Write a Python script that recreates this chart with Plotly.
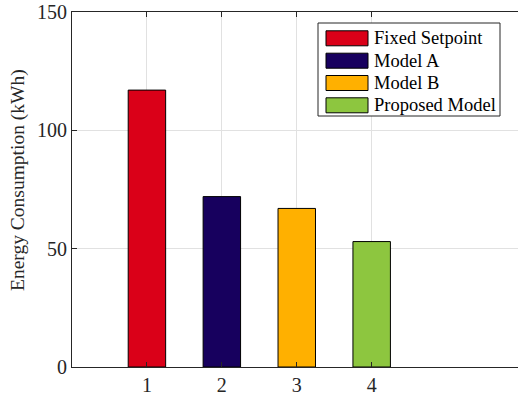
import plotly.graph_objects as go

# Energy use per control strategy
strategies = ["Fixed Setpoint", "Model A", "Model B", "Proposed Model"]
positions = [1, 2, 3, 4]
energy_kwh = [117, 72, 67, 53]
bar_colors = ["rgb(218,0,24)", "rgb(23,0,94)", "rgb(255,176,0)", "rgb(141,198,63)"]
y_ticks = [0, 50, 100, 150]
x_ticks = [1, 2, 3, 4]

W, H = 518, 398
ML, MR, MT, MB = 72, 0, 12, 31
FONT = "Liberation Serif"
AX = "rgb(38,38,38)"
GRID = "rgb(225,225,225)"

fig = go.Figure()
for name, x, v, c in zip(strategies, positions, energy_kwh, bar_colors):
    fig.add_trace(go.Bar(
        x=[x], y=[v], name=name, width=0.5,
        marker=dict(color=c, line=dict(color="black", width=1)),
        showlegend=False,
    ))

# hand-built legend box in pixel terms, converted to paper coordinates
pw, ph = W - ML - MR, H - MT - MB
def px(x):
    return (x - ML) / pw
def py(y):
    return (H - MB - y) / ph

shapes = [dict(type="rect", xref="paper", yref="paper",
               x0=px(318), x1=px(500), y0=py(116), y1=py(23),
               fillcolor="white", line=dict(color=AX, width=1), layer="above")]
annotations = []
row_y = [38.3, 60.7, 83.0, 105.3]
for name, c, yc in zip(strategies, bar_colors, row_y):
    shapes.append(dict(type="rect", xref="paper", yref="paper",
                       x0=px(326), x1=px(368), y0=py(yc + 7.5), y1=py(yc - 7.5),
                       fillcolor=c, line=dict(color="black", width=1), layer="above"))
    annotations.append(dict(xref="paper", yref="paper", x=px(372), y=py(yc),
                            xanchor="left", yanchor="middle", text=name,
                            showarrow=False,
                            font=dict(family=FONT, size=18.5, color="black")))

# y-axis title placed as a rotated annotation
annotations.append(dict(xref="paper", yref="paper", x=px(18), y=py(180),
                        xanchor="center", yanchor="middle", textangle=-90,
                        text="Energy Consumption (kWh)", showarrow=False,
                        font=dict(family=FONT, size=19.5, color=AX)))

fig.update_layout(
    width=W, height=H,
    margin=dict(l=ML, r=MR, t=MT, b=MB, pad=0),
    paper_bgcolor="white", plot_bgcolor="white",
    font=dict(family=FONT, size=19, color=AX),
    barmode="overlay",
    shapes=shapes, annotations=annotations,
)
fig.update_xaxes(
    range=[0, 5.953], tickvals=x_ticks, ticktext=[str(t) for t in x_ticks],
    showline=True, linecolor=AX, linewidth=1, mirror="ticks",
    ticks="inside", ticklen=5, tickcolor=AX,
    showgrid=True, gridcolor=GRID, gridwidth=1, zeroline=False,
    tickfont=dict(family=FONT, size=20, color=AX),
)
fig.update_yaxes(
    range=[0, 150], tickvals=y_ticks,
    showline=True, linecolor=AX, linewidth=1, mirror=False,
    ticks="inside", ticklen=5, tickcolor=AX,
    showgrid=True, gridcolor=GRID, gridwidth=1, zeroline=False,
    tickfont=dict(family=FONT, size=20, color=AX),
)

fig.write_html("out.html")
